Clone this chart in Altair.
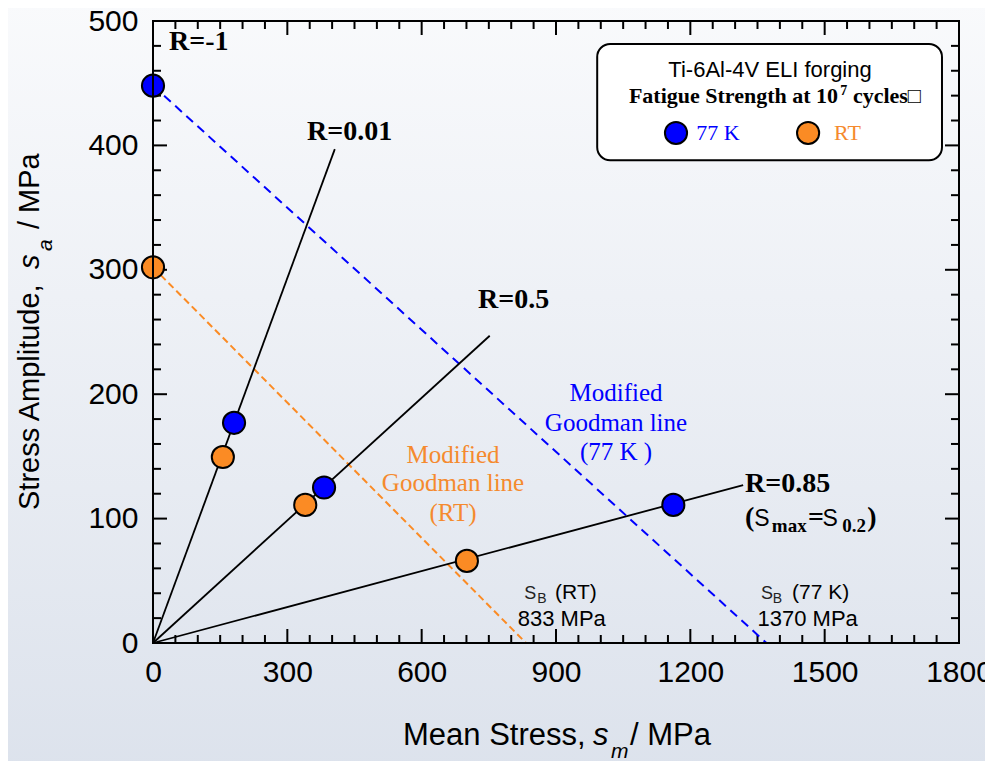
import altair as alt
import pandas as pd

# ---------------- data ----------------
k77_mean = [0, 181, 382, 1162]          # 77 K fatigue strength points
k77_amp = [448, 177, 125, 111]
rt_mean = [0, 156, 340, 701]            # RT fatigue strength points
rt_amp = [302, 149.5, 111, 66]

rline_end_mean = [406, 752, 1318]       # R = 0.01, 0.5, 0.85 lines from origin
rline_end_amp = [397, 247, 127]

goodman_77k_mean = [0, 1370]
goodman_77k_amp = [448, 0]
goodman_rt_mean = [0, 833]
goodman_rt_amp = [302, 0]

x_tick_labels = [0, 300, 600, 900, 1200, 1500, 1800]
y_tick_labels = [0, 100, 200, 300, 400, 500]
x_minor = [v for v in range(50, 1800, 50) if v % 300]
y_minor = [v for v in range(20, 500, 20) if v % 100]
x_major = [300, 600, 900, 1200, 1500]
y_major = [100, 200, 300, 400]

BLUE = "#0000ff"
ORANGE = "#fb8b24"
ORANGE_TXT = "#f58a2e"
SANS = "Liberation Sans"
SERIF = "Liberation Serif"

W, H = 806, 622
XMAX, YMAX = 1800, 500
PX_X = XMAX / W   # data units per pixel
PX_Y = YMAX / H

xs = alt.Scale(domain=[0, XMAX], nice=False, zero=False)
ys = alt.Scale(domain=[0, YMAX], nice=False, zero=False)
xaxis = alt.Axis(values=x_tick_labels, title=None, grid=False, ticks=False, domain=False,
                 labelFont=SANS, labelFontSize=30, labelColor="black", labelPadding=14,
                 labelFlush=False, labelOverlap=False, zindex=1, format="d")
yaxis = alt.Axis(values=y_tick_labels, title=None, grid=False, ticks=False, domain=False,
                 labelFont=SANS, labelFontSize=30, labelColor="black", labelPadding=15,
                 labelFlush=False, labelOverlap=False, zindex=1, format="d")


def X(f="x"):
    return alt.X(f"{f}:Q", scale=xs, axis=xaxis)


def Y(f="y"):
    return alt.Y(f"{f}:Q", scale=ys, axis=yaxis)


one = pd.DataFrame({"a": [0]})

# background gradient
bg = alt.Chart(one).mark_rect(
    fill=alt.LinearGradient(gradient="linear",
                            stops=[alt.GradientStop(color="#f9fafc", offset=0),
                                   alt.GradientStop(color="#dce2ec", offset=1)],
                            x1=0, x2=0, y1=0, y2=1)
).encode(x=alt.value(-160), x2=alt.value(W + 40), y=alt.value(-20), y2=alt.value(H + 140))

# inward ticks on all four sides: one small segment per tick
segs = []
for vals, lp in ((x_minor, 8), (x_major, 14)):
    L = lp * PX_Y
    for v in vals:
        segs.append((v, 0, v, L))
        segs.append((v, YMAX, v, YMAX - L))
for vals, lp in ((y_minor, 8), (y_major, 14)):
    L = lp * PX_X
    for v in vals:
        segs.append((0, v, L, v))
        segs.append((XMAX, v, XMAX - L, v))
tick_layers = [
    alt.Chart(pd.DataFrame({"x": [a], "y": [b], "x2": [c], "y2": [d]})).mark_rule(
        color="black", strokeWidth=2).encode(x=X(), y=Y(), x2="x2:Q", y2="y2:Q")
    for (a, b, c, d) in segs
]

# Goodman lines
g77 = alt.Chart(pd.DataFrame({"x": goodman_77k_mean, "y": goodman_77k_amp})).mark_line(
    color=BLUE, strokeWidth=2, strokeDash=[9, 6]).encode(x=X(), y=Y())
grt = alt.Chart(pd.DataFrame({"x": goodman_rt_mean, "y": goodman_rt_amp})).mark_line(
    color=ORANGE, strokeWidth=2, strokeDash=[7, 4]).encode(x=X(), y=Y())

# R lines
rdf = pd.DataFrame({"x": [0, 0, 0], "y": [0, 0, 0], "x2": rline_end_mean, "y2": rline_end_amp})
rlines = alt.Chart(rdf).mark_rule(color="black", strokeWidth=1.8).encode(
    x=X(), y=Y(), x2="x2:Q", y2="y2:Q")

# points
p77 = alt.Chart(pd.DataFrame({"x": k77_mean, "y": k77_amp})).mark_circle(
    size=491, fill=BLUE, fillOpacity=1, opacity=1, stroke="black", strokeWidth=2).encode(x=X(), y=Y())
prt = alt.Chart(pd.DataFrame({"x": rt_mean, "y": rt_amp})).mark_circle(
    size=491, fill=ORANGE, fillOpacity=1, opacity=1, stroke="black", strokeWidth=2).encode(x=X(), y=Y())


def txt(xv, yv, tv, **kw):
    d = pd.DataFrame({"x": xv, "y": yv, "t": tv})
    return alt.Chart(d).mark_text(**kw).encode(x=X(), y=Y(), text="t:N")


# R labels
rlab = txt([36, 344, 726, 1322], [483, 411, 276, 128], ["R=-1", "R=0.01", "R=0.5", "R=0.85"],
           font=SERIF, fontSize=28, fontWeight="bold", align="left", baseline="middle", color="black")

# (Smax=S0.2)
big = dict(font=SERIF, fontSize=28, fontWeight="bold", align="left", baseline="alphabetic", color="black")
sub = dict(font=SERIF, fontSize=19, fontWeight="bold", align="left", baseline="alphabetic", color="black")
sym = dict(font=SANS, fontSize=23, align="left", baseline="alphabetic", color="black")
smax = (txt([1322, 1463, 1595], [94, 94, 94], ["(", "=", ")"], **big)
        + txt([1343, 1495], [94, 94], ["S", "S"], **sym)
        + txt([1382, 1539], [89, 89], ["max", "0.2"], **sub))

# Modified Goodman texts
gm77 = txt([1034, 1034, 1034], [201, 177, 153.5], ["Modified", "Goodman line", "(77 K )"],
           font=SERIF, fontSize=25, align="center", baseline="middle", color=BLUE)
gmrt = txt([670, 670, 670], [151, 128.6, 104.5], ["Modified", "Goodman line", "(RT)"],
           font=SERIF, fontSize=25, align="center", baseline="middle", color=ORANGE_TXT)

# sigma_B labels
sb = (txt([829, 1358], [35, 35], ["S", "S"], font=SANS, fontSize=18, align="left",
          baseline="alphabetic", color="#222222")
      + txt([858, 1384], [32, 32], ["B", "B"], font=SANS, fontSize=14, align="left",
            baseline="alphabetic", color="#222222")
      + txt([898, 1427], [35, 35], ["(RT)", "(77 K)"], font=SANS, fontSize=21, align="left",
            baseline="alphabetic", color="black")
      + txt([913, 1462], [13.5, 13.5], ["833 MPa", "1370 MPa"], font=SANS, fontSize=22,
            align="center", baseline="alphabetic", color="black"))

# legend box
lbox = alt.Chart(pd.DataFrame({"x": [992], "x2": [1762], "y": [388], "y2": [481.5]})).mark_rect(
    cornerRadius=13, fill="white", stroke="black", strokeWidth=2).encode(
    x=X(), x2="x2:Q", y=Y(), y2="y2:Q")
ltitle = txt([1378], [455], ["Ti-6Al-4V ELI forging"], font=SANS, fontSize=22, align="center",
             baseline="alphabetic", color="black")
lsub = (txt([1530], [434], ["Fatigue Strength at 10"], font=SERIF, fontSize=22,
            fontWeight="bold", align="right", baseline="alphabetic", color="black")
        + txt([1563], [434], ["cycles□"], font=SERIF, fontSize=22,
              fontWeight="bold", align="left", baseline="alphabetic", color="black")
        + txt([1535], [440.5], ["7"], font=SERIF, fontSize=14, fontWeight="bold", align="left",
              baseline="alphabetic", color="black"))
lp77 = alt.Chart(pd.DataFrame({"x": [1168], "y": [410]})).mark_circle(
    size=491, fill=BLUE, fillOpacity=1, opacity=1, stroke="black", strokeWidth=2).encode(x=X(), y=Y())
lprt = alt.Chart(pd.DataFrame({"x": [1463], "y": [410]})).mark_circle(
    size=491, fill=ORANGE, fillOpacity=1, opacity=1, stroke="black", strokeWidth=2).encode(x=X(), y=Y())
ltxt = (txt([1213], [404], ["77 K"], font=SERIF, fontSize=22, align="left", baseline="alphabetic", color=BLUE)
        + txt([1521], [404], ["RT"], font=SERIF, fontSize=22, align="left", baseline="alphabetic",
              color=ORANGE_TXT))


# axis titles built from pieces (subscripts)
def ptxt(px, py, s, **kw):
    return alt.Chart(one).mark_text(**kw).encode(x=alt.value(px), y=alt.value(py), text=alt.value(s))


tbx = dict(font=SANS, fontSize=31, align="left", baseline="alphabetic", color="black")
tby = dict(font=SANS, fontSize=29, align="left", baseline="alphabetic", color="black")
sb_ = dict(font=SANS, fontSize=21, fontStyle="italic", align="left", baseline="alphabetic", color="black")
xtitle = (ptxt(250, 724, "Mean Stress,", **tbx)
          + ptxt(440, 724, "s", fontStyle="italic", **tbx)
          + ptxt(458, 737, "m", **sb_)
          + ptxt(477, 724, "/ MPa", **tbx))
ytitle = (ptxt(-114, 489, "Stress Amplitude,", angle=270, **tby)
          + ptxt(-114, 248, "s", angle=270, fontStyle="italic", **tby)
          + ptxt(-101, 230, "a", angle=270, **sb_)
          + ptxt(-114, 208, "/ MPa", angle=270, **tby))

frame = alt.Chart(one).mark_rect(fillOpacity=0, stroke="black", strokeWidth=2).encode(
    x=alt.value(0), x2=alt.value(W), y=alt.value(0), y2=alt.value(H))

chart = alt.layer(
    bg, *tick_layers, grt, g77, rlines, p77, prt, rlab, smax, gm77, gmrt, sb,
    lbox, ltitle, lsub, lp77, lprt, ltxt, xtitle, ytitle, frame
).properties(
    width=W, height=H,
    autosize=alt.AutoSizeParams(type="none"),
    padding={"left": 145, "top": 13, "right": 26, "bottom": 118},
).configure_view(stroke=None)

chart.save("out.html", embed_options={"renderer": "svg", "actions": False})
